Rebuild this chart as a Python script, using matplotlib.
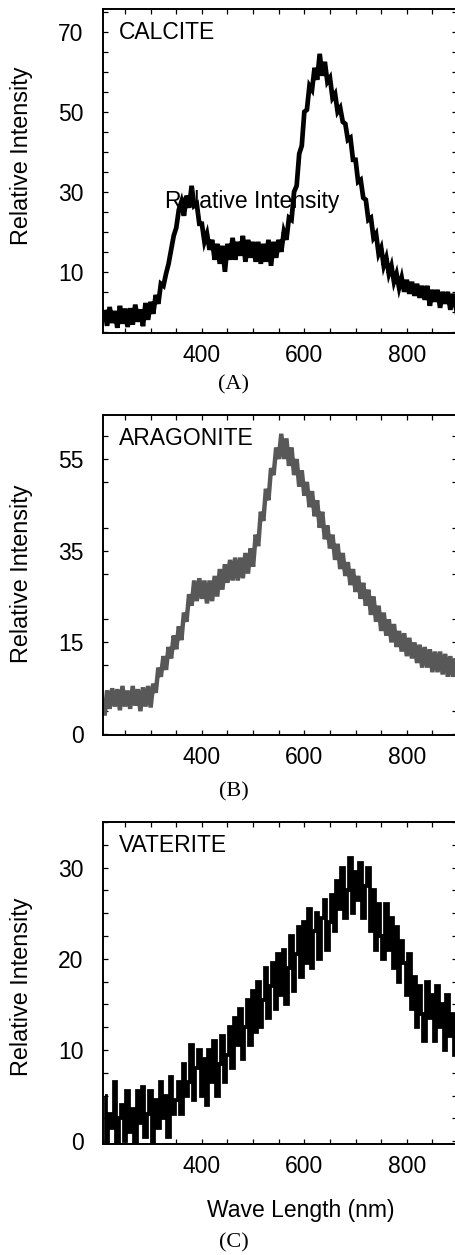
import numpy as np
import matplotlib
matplotlib.use("Agg")
import matplotlib.pyplot as plt
from matplotlib.ticker import MultipleLocator, FixedLocator, FixedFormatter

plt.rcParams['font.family'] = ['Liberation Sans', 'DejaVu Sans']

# wavelength sampling (nm), 5 nm steps from 210 to 900
wl_start, wl_stop, wl_step = 210, 900, 5
wave = np.arange(wl_start, wl_stop + 1, wl_step)

# spectra (noisy traces, one value per 5 nm)
calcite = [
    0.5, -3.5, 1.2, -2.8, 0.2, -4.0, 1.5, -3.0, 0.8, -3.8,
    0.9, -3.2, 1.8, -2.5, 0.6, -3.6, 2.2, -2.0, 2.5, -0.5,
    4.2, 2.0, 7.0, 6.5, 9.5, 12.0, 15.5, 19.0, 21.0, 25.5,
    27.5, 24.0, 29.0, 26.0, 31.5, 26.5, 27.0, 22.0, 22.0, 17.5,
    19.5, 15.5, 18.0, 13.0, 17.0, 12.0, 16.5, 10.0, 17.0, 13.0,
    18.5, 13.0, 17.5, 14.0, 19.0, 12.5, 18.0, 13.5, 17.5, 12.5,
    17.5, 12.0, 17.0, 12.5, 18.0, 11.5, 17.5, 13.5, 18.0, 15.0,
    20.0, 18.0, 23.5, 23.0, 30.0, 31.5, 39.5, 41.5, 50.0, 50.5,
    56.5, 55.5, 61.0, 58.0, 64.5, 59.0, 62.5, 57.5, 58.5, 53.5,
    54.5, 50.0, 51.0, 47.5, 47.0, 43.0, 43.5, 38.0, 38.0, 32.5,
    33.0, 28.5, 28.0, 23.0, 23.5, 18.5, 19.5, 14.5, 16.0, 11.5,
    13.5, 9.5, 11.5, 7.5, 9.5, 6.0, 8.5, 5.0, 8.0, 4.5,
    7.5, 4.0, 7.0, 3.5, 6.5, 3.0, 6.5, 1.5, 5.5, 2.5,
    5.5, 1.0, 5.0, 2.0, 5.0, 0.5, 4.5, 1.5, 4.0,
]
aragonite = [
    -1.0, 4.5, 0.5, 5.0, 1.0, 4.8, 0.2, 5.5, 1.0, 4.5,
    0.5, 5.5, 1.2, 4.8, 0.0, 5.2, 1.0, 5.5, 0.8, 6.0,
    4.0, 9.5, 7.5, 12.0, 9.0, 14.0, 11.5, 16.5, 13.5, 18.5,
    15.5, 21.5, 19.5, 25.5, 23.0, 28.5, 24.0, 29.0, 24.5, 28.5,
    23.5, 28.5, 24.0, 29.5, 25.0, 31.0, 26.5, 32.0, 28.0, 33.0,
    28.5, 33.5, 28.5, 33.5, 29.0, 34.5, 30.0, 35.5, 31.5, 38.5,
    36.0, 43.5, 41.5, 48.5, 46.0, 53.0, 51.5, 57.5, 55.0, 60.5,
    55.0, 59.5, 53.5, 57.5, 51.5, 55.0, 49.0, 52.5, 47.0, 50.0,
    44.5, 48.0, 42.5, 46.0, 40.0, 43.5, 37.5, 40.5, 35.5, 38.5,
    33.0, 36.5, 31.0, 34.5, 29.5, 32.5, 27.5, 31.0, 26.0, 29.5,
    24.5, 28.0, 23.0, 26.5, 21.0, 25.0, 19.5, 23.0, 17.5, 21.5,
    16.5, 20.0, 15.0, 19.0, 14.0, 17.5, 13.0, 17.0, 12.0, 16.0,
    11.5, 15.0, 10.5, 14.5, 9.5, 14.0, 9.5, 13.5, 8.5, 13.0,
    8.5, 13.0, 8.0, 12.5, 7.5, 12.0, 7.5, 11.5, 8.0,
]
vaterite = [
    5.0, -0.5, 3.0, 1.5, 6.5, -0.5, 2.5, 4.0, 0.0, 5.5,
    1.0, 3.5, -0.5, 5.5, 2.0, 6.0, 0.5, 3.0, 5.5, -0.5,
    4.5, 1.5, 6.5, 2.5, 5.0, 0.5, 7.0, 3.0, 4.5, 6.5,
    3.0, 8.5, 5.0, 6.5, 10.5, 4.5, 8.0, 10.0, 5.0, 9.0,
    4.0, 10.0, 6.5, 11.0, 5.0, 8.5, 11.5, 6.5, 9.5, 12.5,
    8.0, 13.5, 10.5, 14.5, 9.0, 12.5, 15.5, 10.5, 16.5, 12.0,
    17.5, 12.5, 15.5, 19.0, 13.5, 17.0, 19.5, 14.5, 20.5, 16.0,
    21.0, 15.0, 19.0, 22.5, 16.5, 20.5, 23.5, 18.0, 24.0, 19.5,
    25.5, 19.0, 23.0, 25.0, 20.0, 24.5, 26.5, 21.0, 24.0, 27.0,
    23.0, 28.5, 25.5, 30.0, 24.5, 27.5, 31.0, 25.0, 29.5, 26.5,
    30.5, 24.5, 28.0, 30.0, 23.0, 27.5, 21.0, 26.0, 22.5, 20.0,
    26.0, 21.0, 24.5, 19.0, 23.5, 17.5, 22.0, 19.5, 16.0, 20.5,
    14.5, 18.0, 12.5, 17.0, 14.0, 11.0, 17.5, 13.5, 16.0, 11.0,
    17.0, 12.5, 15.0, 10.0, 16.0, 11.5, 14.0, 9.5, 13.0,
]

names = ["CALCITE", "ARAGONITE", "VATERITE"]
panel_tags = ["(A)", "(B)", "(C)"]
x_ticks = [400, 600, 800]

a_yticks = [10, 30, 50, 70]
a_ylabels = ["10", "30", "50", "70"]
b_yticks = [-5, 15, 35, 55]
b_ylabels = ["0", "15", "35", "55"]
c_yticks = [0, 10, 20, 30]
c_ylabels = ["0", "10", "20", "30"]

W, H = 455, 1255
fig = plt.figure(figsize=(W / 100, H / 100), dpi=100)

def px_axes(left, top, right, bottom):
    return fig.add_axes([left / W, 1 - bottom / H, (right - left) / W, (bottom - top) / H])

axA = px_axes(103, 9, 457, 333)
axB = px_axes(103, 415, 457, 735)
axC = px_axes(103, 822, 457, 1144)

setup = [
    (axA, calcite, "black", 3.4, "default", (-5.3, 75.7), a_yticks, a_ylabels, 5),
    (axB, aragonite, "#585858", 3.2, "default", (-5.2, 64.6), b_yticks, b_ylabels, 10),
    (axC, vaterite, "black", 2.7, "steps-mid", (-0.3, 35.0), c_yticks, c_ylabels, 2.5),
]

for i, (ax, y, col, lw, ds, ylim, yt, yl, ymin) in enumerate(setup):
    ax.plot(wave, y, color=col, lw=lw, zorder=2, drawstyle=ds,
            solid_joinstyle="miter", solid_capstyle="butt")
    ax.set_xlim(207, 898)
    ax.set_ylim(*ylim)
    ax.xaxis.set_major_locator(FixedLocator(x_ticks))
    ax.xaxis.set_minor_locator(MultipleLocator(50))
    ax.yaxis.set_major_locator(FixedLocator(yt))
    ax.yaxis.set_major_formatter(FixedFormatter(yl))
    ax.yaxis.set_minor_locator(MultipleLocator(ymin))
    ax.tick_params(which="both", direction="in", top=True, right=True,
                   length=3.8, width=0.9, labelsize=16.5)
    ax.tick_params(axis="x", pad=8)
    ax.tick_params(axis="y", pad=14)
    for s in ax.spines.values():
        s.set_linewidth(1.4)
    ax.text(0.045, 0.928, names[i], transform=ax.transAxes, fontsize=16.5,
            ha="left", va="center")

# stray label inside panel A
axA.text(499, 27.5, "Relative Intensity", fontsize=16.5, ha="center",
         va="center", zorder=1)

for yc in [156, 574, 987]:
    fig.text(21.7 / W, 1 - yc / H, "Relative Intensity", rotation=90,
             fontsize=16.8, ha="center", va="center")

for tag, yc in zip(panel_tags, [385, 792, 1243]):
    fig.text(234 / W, 1 - yc / H, tag, fontsize=16, ha="center", va="center",
             family=["Liberation Serif", "DejaVu Serif"])

fig.text(301 / W, 1 - 1210 / H, "Wave Length (nm)", fontsize=16.5,
         ha="center", va="center")

fig.savefig("out.png", dpi=100)
